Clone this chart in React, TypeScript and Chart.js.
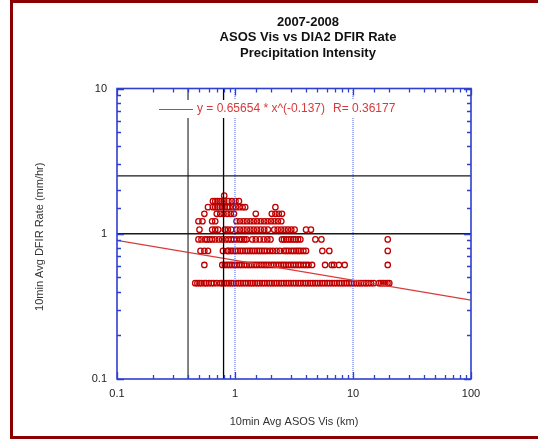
import React, { useEffect, useRef } from 'react';
import { Chart, registerables } from 'chart.js';

Chart.register(...registerables);

// ---- data ----
const titleLines = ['2007-2008', 'ASOS Vis vs DIA2 DFIR Rate', 'Precipitation Intensity'];
const xAxisTitle = '10min Avg ASOS Vis (km)';
const yAxisTitle = '10min Avg DFIR Rate (mm/hr)';
const fitLabel = 'y = 0.65654 * x^(-0.137)';
const fitRLabel = 'R= 0.36177';

const xTickValues = [0.1, 1, 10, 100];
const xTickLabels = ['0.1', '1', '10', '100'];
const yTickValues = [0.1, 1, 10];
const yTickLabels = ['0.1', '1', '10'];

// discrete DFIR rate levels (mm/hr)
const rateLevels = [0.457, 0.61, 0.762, 0.914, 1.067, 1.219, 1.372, 1.524, 1.676, 1.829];

// ASOS visibility (km) of the points at each rate level
const visAt0457 = [0.46, 0.48, 0.5, 0.52, 0.55, 0.57, 0.6, 0.63, 0.66, 0.7, 0.75, 0.78, 0.81, 0.85, 0.89, 0.93, 0.97, 1.02, 1.07, 1.12, 1.17, 1.23, 1.29, 1.35, 1.41, 1.48, 1.55, 1.62, 1.7, 1.78, 1.87, 1.96, 2.05, 2.15, 2.25, 2.36, 2.47, 2.59, 2.72, 2.85, 2.98, 3.13, 3.28, 3.44, 3.6, 3.78, 3.96, 4.15, 4.35, 4.56, 4.78, 5.01, 5.25, 5.5, 5.77, 6.05, 6.34, 6.65, 6.97, 7.3, 7.66, 8.03, 8.41, 8.82, 9.25, 9.7, 10.2, 10.7, 11.2, 11.7, 12.3, 12.9, 13.5, 14.2, 15.0, 16.6, 17.3, 18.0, 18.8, 19.6, 20.3];
const visAt0610 = [0.55, 0.78, 0.82, 0.86, 0.9, 0.94, 0.99, 1.04, 1.09, 1.14, 1.2, 1.26, 1.32, 1.38, 1.45, 1.52, 1.6, 1.68, 1.76, 1.84, 1.93, 2.03, 2.13, 2.23, 2.34, 2.46, 2.58, 2.7, 2.84, 2.98, 3.12, 3.28, 3.44, 3.6, 3.8, 4.0, 4.2, 4.5, 5.8, 6.6, 6.9, 7.6, 8.5, 19.7];
const visAt0762 = [0.51, 0.55, 0.59, 0.79, 0.86, 0.88, 0.92, 0.96, 1.01, 1.06, 1.11, 1.16, 1.22, 1.28, 1.34, 1.4, 1.47, 1.54, 1.61, 1.69, 1.77, 1.86, 1.98, 2.1, 2.25, 2.4, 2.6, 2.72, 2.85, 3.0, 3.15, 3.3, 3.45, 3.6, 3.8, 4.0, 5.5, 6.3, 19.7];
const visAt0914 = [0.49, 0.52, 0.56, 0.58, 0.61, 0.64, 0.68, 0.73, 0.78, 0.83, 0.88, 0.93, 0.98, 1.03, 1.1, 1.15, 1.2, 1.25, 1.4, 1.5, 1.62, 1.75, 1.88, 2.0, 2.5, 2.6, 2.72, 2.85, 2.98, 3.12, 3.27, 3.42, 3.58, 4.8, 5.4, 19.7];
const visAt1067 = [0.5, 0.64, 0.68, 0.72, 0.82, 0.87, 0.93, 1.03, 1.1, 1.18, 1.26, 1.35, 1.44, 1.54, 1.65, 1.77, 1.9, 2.15, 2.3, 2.46, 2.63, 2.81, 3.0, 3.2, 4.0, 4.4];
const visAt1219 = [0.49, 0.53, 0.64, 0.68, 1.03, 1.1, 1.18, 1.26, 1.35, 1.44, 1.54, 1.65, 1.77, 1.89, 2.02, 2.16, 2.31, 2.47];
const visAt1372 = [0.55, 0.7, 0.75, 0.8, 0.86, 0.92, 0.98, 1.5, 2.05, 2.2, 2.35, 2.5];
const visAt1524 = [0.59, 0.65, 0.68, 0.71, 0.74, 0.78, 0.82, 0.86, 0.9, 0.96, 1.02, 1.09, 1.16, 1.22, 2.2];
const visAt1676 = [0.65, 0.68, 0.71, 0.74, 0.77, 0.81, 0.88, 0.94, 1.01, 1.08];
const visAt1829 = [0.81];

// power-law fit end points (x = 0.1 and x = 100)
const fitX = [0.1, 100];
const fitY = [0.9, 0.349];

// reference lines
const hLineRates = [1, 2.5];
const vLineBlack = 0.8;
const vLineGray = 0.4;
const vLineDotted = [1, 10];

// ---- styling ----
const POINT_RED = '#c00000';
const FIT_RED = '#d83a3a';
const AXIS_BLUE = '#2f3fd0';
const FONT = '"Liberation Sans", Arial, sans-serif';

const visByLevel = [visAt0457, visAt0610, visAt0762, visAt0914, visAt1067, visAt1219, visAt1372, visAt1524, visAt1676, visAt1829];

function matchLabel(values: number[], labels: string[], v: number) {
  const i = values.findIndex((t) => Math.abs(t - v) < 1e-6 * t);
  return i >= 0 ? labels[i] : '';
}
function isDecade(v: number) {
  const l = Math.log10(v);
  return Math.abs(l - Math.round(l)) < 1e-6;
}

const overlay = {
  id: 'overlay',
  afterDatasetsDraw(chart: any) {
    const { ctx, chartArea: a, scales } = chart;
    const xs = scales.x;
    const ys = scales.y;
    ctx.save();
    // white legend box hiding the reference lines behind the legend
    ctx.fillStyle = '#fff';
    ctx.fillRect(155, 100, 245, 18);
    ctx.strokeStyle = AXIS_BLUE;
    ctx.lineWidth = 1.3;
    ctx.beginPath();
    for (const t of xs.ticks) {
      const px = Math.round(xs.getPixelForValue(t.value)) + 0.5;
      const len = isDecade(t.value) ? 7 : 4;
      ctx.moveTo(px, a.bottom);
      ctx.lineTo(px, a.bottom - len);
      ctx.moveTo(px, a.top);
      ctx.lineTo(px, a.top + len);
    }
    for (const t of ys.ticks) {
      const py = Math.round(ys.getPixelForValue(t.value)) + 0.5;
      const len = isDecade(t.value) ? 7 : 4;
      ctx.moveTo(a.left, py);
      ctx.lineTo(a.left + len, py);
      ctx.moveTo(a.right, py);
      ctx.lineTo(a.right - len, py);
    }
    ctx.stroke();
    ctx.lineWidth = 1.6;
    ctx.strokeRect(a.left, a.top, a.right - a.left, a.bottom - a.top);
    ctx.restore();
  },
  afterDraw(chart: any) {
    const { ctx, chartArea: a } = chart;
    ctx.save();
    // title
    ctx.fillStyle = '#111';
    ctx.font = 'bold 13px ' + FONT;
    ctx.textAlign = 'center';
    ctx.textBaseline = 'middle';
    const tys = [22, 37.5, 53];
    titleLines.forEach((s, i) => ctx.fillText(s, 308, tys[i]));
    // axis titles
    ctx.fillStyle = '#333';
    ctx.font = '11px ' + FONT;
    ctx.fillText(xAxisTitle, (a.left + a.right) / 2, 422);
    ctx.save();
    ctx.translate(40, (a.top + a.bottom) / 2 + 3);
    ctx.rotate(-Math.PI / 2);
    ctx.fillText(yAxisTitle, 0, 0);
    ctx.restore();
    // legend
    ctx.strokeStyle = FIT_RED;
    ctx.lineWidth = 1.2;
    ctx.beginPath();
    ctx.moveTo(159, 109.5);
    ctx.lineTo(193, 109.5);
    ctx.stroke();
    ctx.fillStyle = FIT_RED;
    ctx.font = '12px ' + FONT;
    ctx.textAlign = 'left';
    ctx.fillText(fitLabel, 197, 109);
    ctx.fillText(fitRLabel, 333, 109);
    ctx.restore();
  },
};

export default function App() {
  const ref = useRef<HTMLCanvasElement>(null);
  useEffect(() => {
    const points: { x: number; y: number }[] = [];
    rateLevels.forEach((r, i) => visByLevel[i].forEach((v) => points.push({ x: v, y: r })));

    const refLine = (data: { x: number; y: number }[], color: string, width: number, dash: number[] = []) => ({
      type: 'line' as const,
      data,
      borderColor: color,
      borderWidth: width,
      borderDash: dash,
      pointRadius: 0,
      fill: false,
      order: 1,
    });

    const datasets: any[] = [
      ...hLineRates.map((r) => refLine([{ x: 0.1, y: r }, { x: 100, y: r }], '#1a1a1a', 1.3)),
      refLine([{ x: vLineGray, y: 0.1 }, { x: vLineGray, y: 10 }], '#5a5a5a', 1.5),
      refLine([{ x: vLineBlack, y: 0.1 }, { x: vLineBlack, y: 10 }], '#000000', 1.3),
      ...vLineDotted.map((v) => refLine([{ x: v, y: 0.1 }, { x: v, y: 10 }], '#4a5cf0', 1, [1, 1])),
      {
        type: 'line' as const,
        data: fitX.map((x, i) => ({ x, y: fitY[i] })),
        borderColor: FIT_RED,
        borderWidth: 1.2,
        pointRadius: 0,
        fill: false,
        order: 2,
      },
      {
        type: 'scatter' as const,
        data: points,
        pointStyle: 'circle',
        pointRadius: 2.7,
        borderWidth: 1.3,
        borderColor: POINT_RED,
        backgroundColor: 'rgba(0,0,0,0)',
        order: 3,
      },
    ];

    const chart = new Chart(ref.current as HTMLCanvasElement, {
      type: 'scatter',
      data: { datasets },
      options: {
        responsive: false,
        devicePixelRatio: 1,
        animation: false,
        layout: { padding: { left: 0, right: 67, top: 88.5, bottom: 0 } },
        plugins: { legend: { display: false }, tooltip: { enabled: false }, title: { display: false } },
        scales: {
          x: {
            type: 'logarithmic',
            min: 0.1,
            max: 100,
            grid: { display: false, drawTicks: false },
            border: { display: false },
            ticks: {
              autoSkip: false,
              maxRotation: 0,
              padding: 8,
              color: '#222',
              font: { size: 11, family: FONT },
              callback: (v: any) => matchLabel(xTickValues, xTickLabels, Number(v)),
            },
            afterFit: (s: any) => {
              s.height = 60;
            },
          },
          y: {
            type: 'logarithmic',
            min: 0.1,
            max: 10,
            grid: { display: false, drawTicks: false },
            border: { display: false },
            ticks: {
              autoSkip: false,
              padding: 10,
              color: '#222',
              font: { size: 11, family: FONT },
              callback: (v: any) => matchLabel(yTickValues, yTickLabels, Number(v)),
            },
            afterFit: (s: any) => {
              s.width = 117;
            },
          },
        },
      },
      plugins: [overlay],
    } as any);
    return () => chart.destroy();
  }, []);

  return (
    <div style={{ position: 'fixed', left: 0, top: 0, width: 538, height: 439, overflow: 'hidden', background: '#fff' }}>
      <canvas ref={ref} width={538} height={439} style={{ position: 'absolute', left: 0, top: 0, width: 538, height: 439 }} />
      <div
        style={{
          position: 'absolute',
          left: 10,
          top: 0,
          width: 600,
          height: 439,
          boxSizing: 'border-box',
          border: '3px solid #8b0000',
          pointerEvents: 'none',
        }}
      />
    </div>
  );
}
